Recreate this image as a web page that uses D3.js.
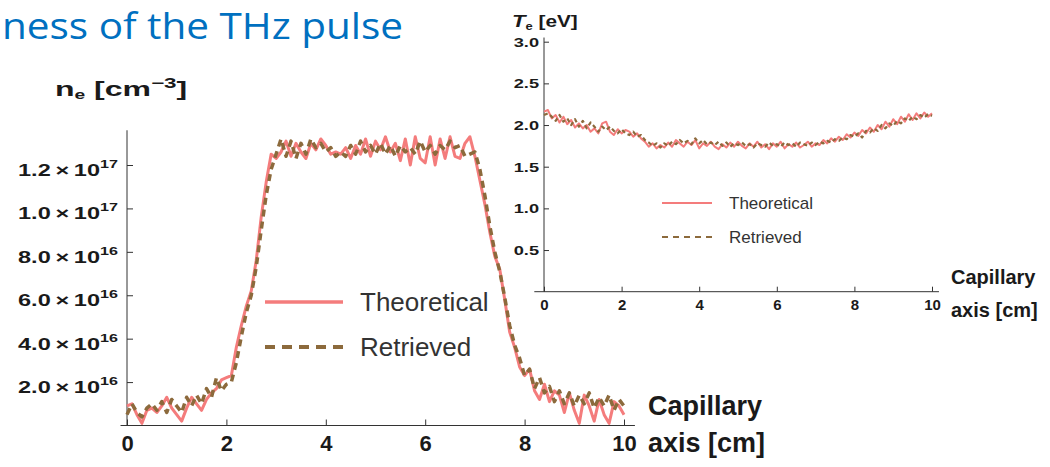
<!DOCTYPE html>
<html>
<head>
<meta charset="utf-8">
<title>Electron density and temperature along the capillary</title>
<style>
  body { margin: 0; background: #fff; }
  svg { display: block; font-family: "Liberation Sans", Arial, sans-serif; }
  .axis line, .axis path { stroke: #333; }
  .axis .tick text { font-weight: bold; fill: #1a1a1a; }
</style>
</head>
<body>
<script src="https://cdn.jsdelivr.net/npm/d3@7"></script>
<script>

// samples along the capillary axis, every 0.1 cm from 0 to 10
var step = 0.1;

// electron density, in units of 1e16 cm^-3
var neTheoretical = [
  0.9, 1.0, 0.5, 0.1, 0.7, 0.8, 0.6, 0.9, 1.3, 0.8,
  0.5, 0.2, 0.8, 1.3, 1.0, 0.7, 1.2, 1.5, 1.7, 2.1,
  2.2, 2.3, 3.6, 4.6, 5.5, 6.2, 7.6, 9.6, 11.2, 12.5,
  12.3, 12.6, 13.1, 12.4, 13.0, 12.6, 12.3, 13.0, 12.7, 13.2,
  12.9, 12.5, 12.6, 12.5, 12.8, 12.3, 12.9, 12.5, 13.2, 12.4,
  13.1, 12.7, 13.3, 12.6, 13.0, 12.2, 13.2, 12.0, 13.3, 12.3,
  12.1, 13.3, 12.0, 13.2, 12.3, 13.3, 12.4, 12.3, 13.0, 13.3,
  12.4, 11.3, 10.2, 8.9, 7.8, 7.2, 5.8, 4.3, 3.6, 2.7,
  2.3, 2.6, 1.6, 1.2, 1.9, 1.1, 1.6, 1.4, 0.6, 1.5,
  0.7, 0.1, 1.4, 0.9, 0.2, 1.2, 0.5, 0.1, 1.1, 0.9,
  0.5
];
var neRetrieved = [
  0.5, 1.0, 0.6, 0.4, 0.8, 1.0, 0.7, 1.1, 0.6, 1.2,
  0.9, 0.6, 1.3, 0.9, 1.4, 1.0, 1.7, 1.3, 2.2, 1.6,
  1.9, 2.0, 2.9, 4.1, 5.2, 6.0, 7.3, 9.0, 10.6, 11.8,
  12.5, 13.2, 12.4, 13.1, 12.3, 13.0, 12.5, 13.2, 12.8, 13.0,
  12.6, 12.8, 12.4, 12.6, 12.4, 12.9, 12.5, 13.1, 12.6, 12.9,
  12.5, 13.0, 12.5, 12.9, 12.4, 12.9, 12.6, 12.8, 12.5, 13.1,
  12.6, 12.9, 12.5, 12.9, 12.7, 13.1, 12.8, 12.9, 12.4, 12.5,
  12.6, 11.8, 10.6, 9.2, 8.0, 7.1, 5.9, 4.6, 3.7, 3.1,
  2.3, 2.6, 1.7, 2.2, 1.5, 1.8, 1.1, 1.6, 1.0, 1.5,
  0.9, 1.4, 1.0, 1.5, 0.8, 1.3, 0.9, 1.4, 0.7, 1.2,
  0.9
];

// electron temperature [eV]
var teTheoretical = [
  2.16, 2.18, 2.08, 2.12, 2.03, 2.10, 2.01, 2.06, 1.97, 2.02,
  1.96, 2.00, 1.92, 1.96, 1.90, 2.02, 2.04, 1.92, 1.88, 1.95,
  1.90, 1.94, 1.92, 1.86, 1.90, 1.84, 1.80, 1.74, 1.78, 1.72,
  1.76, 1.73, 1.79, 1.74, 1.82, 1.78, 1.74, 1.80, 1.76, 1.82,
  1.72, 1.78, 1.75, 1.80, 1.74, 1.71, 1.77, 1.73, 1.79, 1.74,
  1.80, 1.75, 1.72, 1.78, 1.74, 1.80, 1.73, 1.77, 1.71, 1.78,
  1.74, 1.80, 1.72, 1.77, 1.74, 1.79, 1.73, 1.76, 1.80, 1.74,
  1.78, 1.76, 1.82, 1.78, 1.84, 1.80, 1.86, 1.82, 1.89, 1.85,
  1.91, 1.87, 1.94, 1.90, 1.97, 1.92, 2.00, 1.95, 2.04, 1.98,
  2.07, 2.01, 2.10, 2.04, 2.13, 2.06, 2.14, 2.08, 2.15, 2.10,
  2.14
];
var teRetrieved = [
  2.12, 2.14, 2.10, 2.05, 2.12, 2.04, 2.08, 2.00, 2.07, 1.98,
  2.05, 1.96, 2.03, 1.98, 1.92, 1.98, 1.94, 1.98, 1.93, 1.90,
  1.95, 1.90, 1.88, 1.92, 1.86, 1.88, 1.82, 1.79, 1.75, 1.78,
  1.73, 1.78, 1.75, 1.80, 1.77, 1.82, 1.78, 1.81, 1.77, 1.84,
  1.78, 1.82, 1.77, 1.79, 1.76, 1.80, 1.75, 1.79, 1.74, 1.78,
  1.76, 1.79, 1.75, 1.77, 1.73, 1.78, 1.76, 1.74, 1.79, 1.75,
  1.77, 1.74, 1.79, 1.76, 1.78, 1.74, 1.79, 1.77, 1.75, 1.79,
  1.76, 1.80, 1.78, 1.81, 1.79, 1.83, 1.81, 1.85, 1.83, 1.88,
  1.86, 1.90, 1.85, 1.93, 1.91, 1.96, 1.93, 2.00, 1.96, 2.02,
  1.99, 2.05, 2.02, 2.08, 2.05, 2.10, 2.07, 2.12, 2.09, 2.13,
  2.11
];

var xTickValues = [0, 2, 4, 6, 8, 10];
var neTickValues = [2, 4, 6, 8, 10, 12];
var neTickMantissa = ["2.0", "4.0", "6.0", "8.0", "1.0", "1.2"];
var neTickExponent = ["16", "16", "16", "16", "17", "17"];
var teTickValues = [0.5, 1.0, 1.5, 2.0, 2.5, 3.0];
var teTickLabels = ["0.5", "1.0", "1.5", "2.0", "2.5", "3.0"];
var seriesNames = ["Theoretical", "Retrieved"];

var pink = "#f47c7c", brown = "#8c6a3c";

var svg = d3.select("body").append("svg")
    .attr("width", 1050)
    .attr("height", 467);

svg.append("rect").attr("width", 1050).attr("height", 467).attr("fill", "#fff");

// slide title (only its end is visible in the original)
svg.append("text")
    .attr("x", 2)
    .attr("y", 39)
    .attr("textLength", 401)
    .attr("lengthAdjust", "spacingAndGlyphs")
    .style("font-family", "'Open Sans', 'Noto Sans', sans-serif")
    .style("font-size", "36px")
    .style("fill", "#0070c0")
    .text("ness of the THz pulse");

// horizontally stretched text, like the labels of the original plot
function stretched(x, y, sx, anchor) {
  return svg.append("text")
      .attr("transform", "translate(" + x + "," + y + ") scale(" + sx + ",1)")
      .attr("text-anchor", anchor)
      .style("font-weight", "bold")
      .style("fill", "#1a1a1a");
}

function drawAxes(x, y, o) {
  var gx = svg.append("g")
      .attr("class", "axis")
      .attr("transform", "translate(0," + y(0) + ")");
  gx.call(d3.axisBottom(x).tickValues(d3.range(0, 10.01, 0.5)).tickSize(-o.minor).tickFormat(""));
  gx.call(d3.axisBottom(x).tickValues(xTickValues).tickSize(-o.major).tickPadding(o.xPad).tickFormat(d3.format("d")));
  gx.selectAll(".tick text").style("font-size", o.xFont + "px");
  gx.selectAll(".domain").remove();
  gx.append("line")
      .attr("x1", x(o.xMin)).attr("x2", x(o.xMax))
      .attr("stroke", "#333");

  var gy = svg.append("g")
      .attr("class", "axis")
      .attr("transform", "translate(" + x(0) + ",0)");
  gy.call(d3.axisRight(y).tickValues(o.yMinorTicks).tickSize(o.minor).tickFormat(""));
  gy.call(d3.axisRight(y).tickValues(o.yMajorTicks).tickSize(o.major).tickFormat(""));
  gy.selectAll(".domain").remove();
  gy.append("line")
      .attr("y1", y(0)).attr("y2", y(o.yMax))
      .attr("stroke", "#333");
}

function drawSeries(x, y, values, color, width, dash) {
  var line = d3.line()
      .x(function (d, i) { return x(i * step); })
      .y(function (d) { return y(d); });
  svg.append("path")
      .datum(values)
      .attr("d", line)
      .attr("fill", "none")
      .attr("stroke", color)
      .attr("stroke-width", width)
      .attr("stroke-linejoin", "round")
      .attr("stroke-dasharray", dash);
}

function drawLegend(x0, x1, textX, ys, fontSize, widths, dashes) {
  var colors = [pink, brown];
  seriesNames.forEach(function (name, i) {
    svg.append("line")
        .attr("x1", x0).attr("x2", x1)
        .attr("y1", ys[i]).attr("y2", ys[i])
        .attr("stroke", colors[i])
        .attr("stroke-width", widths[i])
        .attr("stroke-dasharray", dashes[i]);
    svg.append("text")
        .attr("x", textX)
        .attr("y", ys[i] + fontSize * 0.36)
        .style("font-size", fontSize + "px")
        .style("fill", "#333")
        .text(name);
  });
}

function boldLabel(x, y, size, txt) {
  svg.append("text").attr("x", x).attr("y", y)
      .style("font-size", size + "px").style("font-weight", "bold").style("fill", "#1a1a1a")
      .text(txt);
}

// ---------- electron density (main plot) ----------
var xN = d3.scaleLinear().domain([0, 10]).range([127, 624]);
var yN = d3.scaleLinear().domain([0, 12]).range([425.5, 165]);

drawAxes(xN, yN, {
  minor: 3, major: 6, xPad: 10, xFont: 22,
  xMin: -0.13, xMax: 10.22, yMax: 13.6,
  yMinorTicks: d3.range(0, 13.3, 0.4), yMajorTicks: neTickValues
});

neTickValues.forEach(function (v, i) {
  var t = stretched(118, yN(v) + 11, 1.47, "end").style("font-size", "16px");
  t.append("tspan").text(neTickMantissa[i] + "\u2009\u00d7\u200910");
  t.append("tspan").attr("dy", -8).style("font-size", "11px").text(neTickExponent[i]);
});

var nl = stretched(55, 96, 1.6, "start").style("font-size", "20px");
nl.append("tspan").text("n");
nl.append("tspan").attr("dy", 3).style("font-size", "12px").text("e");
nl.append("tspan").attr("dy", -3).text(" [cm");
nl.append("tspan").attr("dy", -8).style("font-size", "14px").text("\u22123");
nl.append("tspan").attr("dy", 8).text("]");

drawSeries(xN, yN, neTheoretical, pink, 3, null);
drawSeries(xN, yN, neRetrieved, brown, 3.5, "7,5");

drawLegend(265, 343, 360, [302, 347], 26, [3.5, 4], [null, "10,7"]);

boldLabel(648, 415, 27, "Capillary");
boldLabel(648, 452, 27, "axis [cm]");

// ---------- electron temperature (inset) ----------
var xT = d3.scaleLinear().domain([0, 10]).range([544, 932]);
var yT = d3.scaleLinear().domain([0, 3]).range([291.7, 41.7]);

drawAxes(xT, yT, {
  minor: 2.5, major: 5, xPad: 8, xFont: 15,
  xMin: -0.25, xMax: 10.18, yMax: 3.05,
  yMinorTicks: d3.range(0.1, 3.01, 0.1), yMajorTicks: teTickValues
});

teTickValues.forEach(function (v, i) {
  stretched(539, yT(v) + 5, 1.35, "end").style("font-size", "13.5px").text(teTickLabels[i]);
});

var tl = stretched(512, 27, 1.3, "start").style("font-size", "16px");
tl.append("tspan").style("font-style", "italic").style("font-size", "17px").text("T");
tl.append("tspan").attr("dy", 3).style("font-size", "10px").text("e");
tl.append("tspan").attr("dy", -3).text(" [eV]");

drawSeries(xT, yT, teTheoretical, pink, 2, null);
drawSeries(xT, yT, teRetrieved, brown, 2.2, "4,3");

drawLegend(662, 712, 729, [203, 237], 17, [2, 2.2], [null, "6,5"]);

boldLabel(951, 284, 20, "Capillary");
boldLabel(951, 317, 20, "axis [cm]");

</script>
</body>
</html>
